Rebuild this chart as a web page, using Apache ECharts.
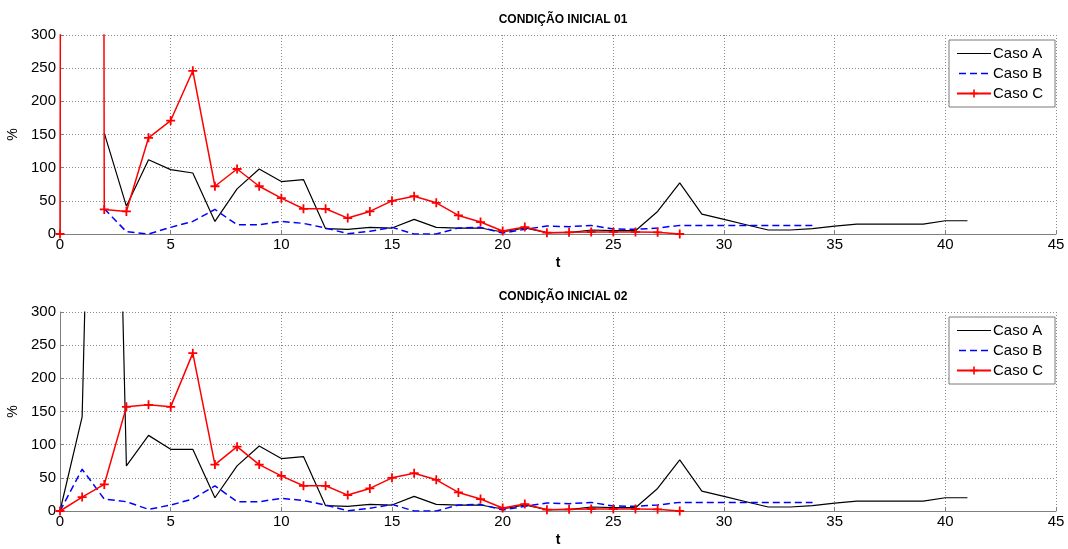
<!DOCTYPE html>
<html><head><meta charset="utf-8">
<script src="https://cdn.jsdelivr.net/npm/echarts@6/dist/echarts.min.js"></script>
<style>html,body{margin:0;padding:0;background:#fff}#c{width:1068px;height:549px}</style>
</head><body><div id="c"></div>
<script>
// ---- data ----
const titles = ['CONDIÇÃO INICIAL 01', 'CONDIÇÃO INICIAL 02'];
const seriesNames = ['Caso A', 'Caso B', 'Caso C'];
const yTicks = [0, 50, 100, 150, 200, 250, 300];
const xTicks = [0, 5, 10, 15, 20, 25, 30, 35, 40, 45];

// Condição inicial 01
const c1A_t = [2,3,4,5,6,7,8,9,10,11,12,13,14,15,16,17,18,19,20,21,22,23,24,25,26,27,28,29,30,31,32,33,34,35,36,37,38,39,40,41];
const c1A_v = [152,42,112,97,92,19,68,98,79,82,8,7,10,9,22,10,9,9,3,9,2,2,6,5,5,34,77,30,22,14,6,6,8,12,15,15,15,15,20,20];
const c1B_t = [2,3,4,5,6,7,8,9,10,11,12,13,14,15,16,17,18,19,20,21,22,23,24,25,26,27,28,29,30,31,32,33,34];
const c1B_v = [38,3.5,0,10,19,37,14,14,19,16,9,0.5,4,10,0,0,9,10,1.5,7,12,11,13,7.5,7,9,13,13,13,13,13,13,13];
const c1C_t = [0,1,2,3,4,5,6,7,8,9,10,11,12,13,14,15,16,17,18,19,20,21,22,23,24,25,26,27,28];
const c1C_v = [0,20000,37,34,145,171,246,72,98,72,54,38,38,24,34,50,57,47,28,18,4.5,10.5,2,2.5,3,3,3,2.5,0];

// Condição inicial 02
const c2A_t = [0,1,2,3,4,5,6,7,8,9,10,11,12,13,14,15,16,17,18,19,20,21,22,23,24,25,26,27,28,29,30,31,32,33,34,35,36,37,38,39,40,41];
const c2A_v = [0,142,1500,68,114,93,93,20,68,98,79,82,8,7,10,9,22,10,9,9,3,9,2,2,6,5,5,34,77,30,22,14,6,6,8,12,15,15,15,15,20,20];
const c2B_t = [0,1,2,3,4,5,6,7,8,9,10,11,12,13,14,15,16,17,18,19,20,21,22,23,24,25,26,27,28,29,30,31,32,33,34];
const c2B_v = [0,63,18,14,2.5,9,18,38,14,14,19,16,9,0.5,4,10,0,0,9,10,1.5,7,12,11,13,7.5,7,9,13,13,13,13,13,13,13];
const c2C_t = [0,1,2,3,4,5,6,7,8,9,10,11,12,13,14,15,16,17,18,19,20,21,22,23,24,25,26,27,28];
const c2C_v = [0,21,40,157,160,157,238,70,97,70,53,38,38,24,34,50,57,47,28,18,4.5,10.5,2,2.5,3,3,3,2.5,0];

// ---- build ----
const pairs = (t, v) => t.map((x, i) => [x, v[i]]);
const plus = 'path://M4,0H6V4H10V6H6V10H4V6H0V4H4Z';
const iconSolid = 'path://M0,4.4H34V5.6H0Z';
const iconDash = 'path://M2,4.3H9V5.7H2Z M13,4.3H20V5.7H13Z M24,4.3H31V5.7H24Z M34,4.3H34V5.7H34Z M0,5H0.01V5.01H0Z';
const font = 'Liberation Sans, Arial, sans-serif';
const gridTops = [35, 312];
const H = 199;

function axisPair(i) {
  const x = {
    type: 'value', gridIndex: i, min: xTicks[0], max: xTicks[xTicks.length - 1], interval: 5,
    name: 't', nameLocation: 'middle', nameGap: 22,
    nameTextStyle: {fontFamily: font, fontSize: 14, fontWeight: 'bold', color: '#000'},
    axisLine: {show: true, lineStyle: {color: '#7f7f7f', width: 1}},
    axisTick: {show: true, inside: true, length: 4, lineStyle: {color: '#7f7f7f'}},
    axisLabel: {fontFamily: font, fontSize: 15, color: '#000', margin: 3},
    splitLine: {show: true, lineStyle: {color: '#8a8a8a', type: [1, 2], width: 1}}
  };
  const y = {
    type: 'value', gridIndex: i, min: yTicks[0], max: yTicks[yTicks.length - 1], interval: 50,
    name: '%', nameLocation: 'middle', nameGap: 37,
    nameTextStyle: {fontFamily: font, fontSize: 14, color: '#000'},
    axisLine: {show: true, lineStyle: {color: '#7f7f7f', width: 1}},
    axisTick: {show: true, inside: true, length: 4, lineStyle: {color: '#7f7f7f'}},
    axisLabel: {fontFamily: font, fontSize: 15, color: '#000', margin: 4},
    splitLine: {show: true, lineStyle: {color: '#8a8a8a', type: [1, 2], width: 1}}
  };
  return [x, y];
}
const ax0 = axisPair(0), ax1 = axisPair(1);

function mk(i, name, data) {
  const base = {name, type: 'line', xAxisIndex: i, yAxisIndex: i, data, clip: true, animation: false};
  if (name === 'Caso A') return Object.assign(base, {symbol: 'none', lineStyle: {color: '#000', width: 1.2}, itemStyle: {color: '#000'}, z: 2});
  if (name === 'Caso B') return Object.assign(base, {symbol: 'none', lineStyle: {color: '#0000ff', width: 1.5, type: [7, 4]}, itemStyle: {color: '#0000ff'}, z: 3});
  return Object.assign(base, {symbol: plus, symbolSize: 9, showAllSymbol: true, lineStyle: {color: '#ff0000', width: 1.5}, itemStyle: {color: '#ff0000'}, z: 4});
}

function legend(top) {
  return {
    data: [
      {name: seriesNames[0], icon: iconSolid, itemStyle: {color: '#000'}},
      {name: seriesNames[1], icon: iconDash, itemStyle: {color: '#0000ff'}},
      {name: seriesNames[2]}
    ],
    orient: 'vertical', left: 949, top: top,
    backgroundColor: '#fff', borderColor: '#7a7a7a', borderWidth: 1, borderRadius: 0,
    padding: [6, 12, 6, 7], itemGap: 5, itemWidth: 34, itemHeight: 10,
    textStyle: {fontFamily: font, fontSize: 15, color: '#000', padding: [0, 0, 0, -3]},
    selectedMode: false
  };
}

const option = {
  backgroundColor: '#fff',
  animation: false,
  title: titles.map((t, i) => ({
    text: t, left: 558, top: gridTops[i] - 26, textAlign: 'center',
    textStyle: {fontFamily: font, fontSize: 12, fontWeight: 'bold', color: '#000'}
  })),
  grid: gridTops.map(t => ({left: 60, right: 12, top: t, height: H, containLabel: false, outerBoundsMode: 'none'})),
  xAxis: [ax0[0], ax1[0]],
  yAxis: [ax0[1], ax1[1]],
  legend: [legend(40), legend(317)],
  series: [
    mk(0, 'Caso A', pairs(c1A_t, c1A_v)),
    mk(0, 'Caso B', pairs(c1B_t, c1B_v)),
    mk(0, 'Caso C', pairs(c1C_t, c1C_v)),
    mk(1, 'Caso A', pairs(c2A_t, c2A_v)),
    mk(1, 'Caso B', pairs(c2B_t, c2B_v)),
    mk(1, 'Caso C', pairs(c2C_t, c2C_v))
  ]
};
const chart = echarts.init(document.getElementById('c'), null, {renderer: 'canvas'});
chart.setOption(option);
</script></body></html>
